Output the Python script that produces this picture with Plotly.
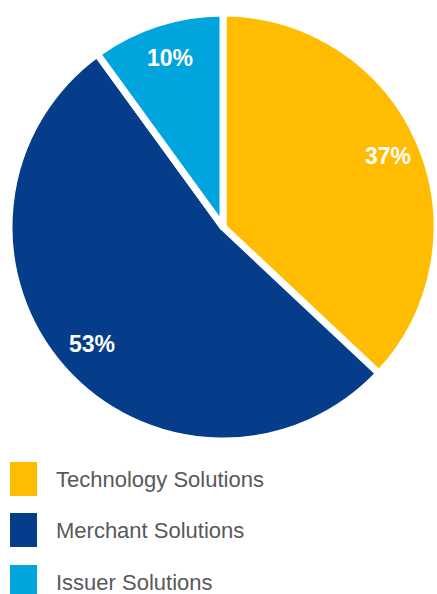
import math
import plotly.graph_objects as go

labels = ["Technology Solutions", "Merchant Solutions", "Issuer Solutions"]
values = [37, 53, 10]
colors = ["#FFBC00", "#063D8A", "#00A5DE"]

W, H = 437, 594
cx, cy, R = 223, 227, 214  # pixel geometry of pie

fig = go.Figure()
fig.add_trace(go.Pie(
    labels=labels, values=values, sort=False, direction="clockwise", rotation=0,
    marker=dict(colors=colors, line=dict(color="white", width=7)),
    textinfo="none", hoverinfo="label+percent", showlegend=False,
    domain=dict(x=[(cx - R) / W, 1.0], y=[(H - (cy + R)) / H, (H - (cy - R)) / H]),
))

annotations = []
total = sum(values)
start = 0.0
for lab, v in zip(labels, values):
    mid = (start + v / 2) / total * 2 * math.pi
    start += v
    k = 0.83
    px = cx + 2 + k * R * math.sin(mid)
    py = cy - k * R * math.cos(mid)
    annotations.append(dict(
        x=px / W, y=1 - py / H, xref="paper", yref="paper",
        text=f"{round(v / total * 100)}%", showarrow=False,
        font=dict(family="Liberation Sans, Arial", size=23, color="white", weight="bold"),
        xanchor="center", yanchor="middle",
    ))

shapes = []
leg_y = [479, 530, 582]
for lab, col, y in zip(labels, colors, leg_y):
    shapes.append(dict(type="rect", xref="paper", yref="paper",
                       x0=10 / W, x1=37 / W, y0=1 - (y + 17) / H, y1=1 - (y - 17) / H,
                       fillcolor=col, line=dict(width=0)))
    annotations.append(dict(
        x=54 / W, y=1 - y / H, xref="paper", yref="paper", text=lab, showarrow=False,
        font=dict(family="Liberation Sans, Arial", size=22, color="#58595B"),
        xanchor="left", yanchor="middle",
    ))

fig.update_layout(
    width=W, height=H, margin=dict(l=0, r=0, t=0, b=0),
    paper_bgcolor="white", plot_bgcolor="white",
    annotations=annotations, shapes=shapes,
)
fig.write_html("out.html")
